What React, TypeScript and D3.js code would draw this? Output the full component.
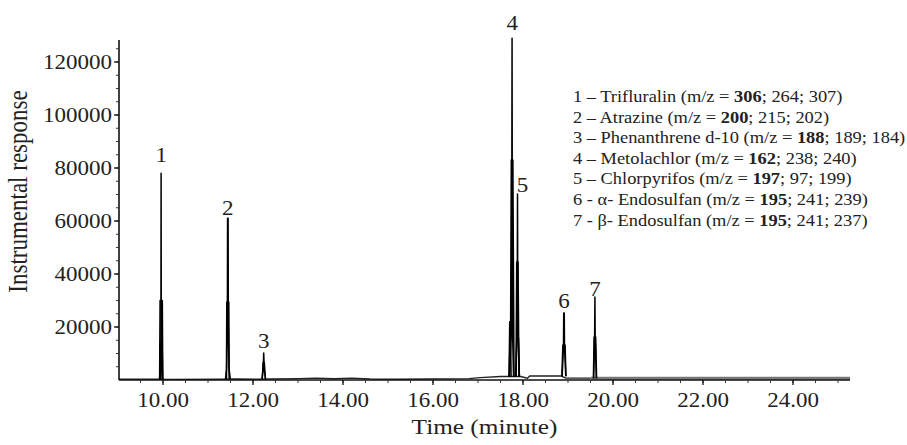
import React from "react";
import * as d3 from "d3";

// ---- data ----
const xTickValues = [10, 12, 14, 16, 18, 20, 22, 24];
const xTickLabels = ["10.00", "12.00", "14.00", "16.00", "18.00", "20.00", "22.00", "24.00"];
const yTickValues = [20000, 40000, 60000, 80000, 100000, 120000];
const yTickLabels = ["20000", "40000", "60000", "80000", "100000", "120000"];

const peakLabels = ["1", "2", "3", "4", "5", "6", "7"];
const peakTimes = [9.96, 11.44, 12.24, 17.76, 17.88, 18.91, 19.6];
const peakHeights = [78000, 61000, 10200, 129000, 70200, 25300, 31300];

// baseline of the chromatogram [time, response]
const baseline: [number, number][] = [
  [9.03, 300], [9.9, 300], [10.1, 250], [11.3, 300], [11.6, 400], [12.1, 300], [12.4, 400],
  [13.0, 500], [13.4, 700], [13.8, 500], [14.2, 700], [14.6, 400], [15.2, 300], [16.0, 350],
  [16.8, 500], [17.05, 900], [17.5, 1300], [17.95, 1300], [18.1, 700], [18.15, 1500],
  [18.85, 1500], [18.95, 700], [19.5, 700], [25.27, 700],
];

// ion traces of every peak [time, response]
const ionTraces: [number, number][][] = [
  // 1 Trifluralin
  [[9.94, 300], [9.953, 12000], [9.958, 78000], [9.962, 12000], [9.98, 300]],
  [[9.925, 300], [9.935, 30000], [9.985, 30000], [9.995, 300]],
  [[9.925, 300], [9.94, 14000], [9.98, 14000], [9.995, 300]],
  // 2 Atrazine
  [[11.41, 400], [11.43, 20000], [11.435, 61000], [11.447, 61000], [11.452, 20000], [11.47, 400]],
  [[11.39, 400], [11.41, 4000], [11.418, 29400], [11.462, 29400], [11.47, 4000], [11.495, 400]],
  // 3 Phenanthrene d-10
  [[12.2, 300], [12.226, 4000], [12.238, 10200], [12.25, 4000], [12.28, 400]],
  [[12.205, 300], [12.225, 6500], [12.252, 6500], [12.275, 400]],
  // 4 Metolachlor
  [[17.7, 1100], [17.745, 20000], [17.757, 129000], [17.765, 20000], [17.79, 1200]],
  [[17.69, 1100], [17.725, 22000], [17.74, 83000], [17.775, 83000], [17.8, 1200]],
  [[17.69, 1100], [17.705, 22000], [17.72, 22000], [17.735, 1200]],
  // 5 Chlorpyrifos
  [[17.84, 1200], [17.87, 20000], [17.878, 70200], [17.885, 20000], [17.92, 1200]],
  [[17.845, 1200], [17.86, 44500], [17.89, 44500], [17.91, 1200]],
  [[17.845, 1200], [17.862, 15800], [17.9, 15800], [17.92, 1200]],
  // 6 alpha-Endosulfan
  [[18.87, 1400], [18.9, 13000], [18.905, 25300], [18.917, 25300], [18.922, 13000], [18.95, 1400]],
  [[18.865, 1400], [18.885, 13200], [18.935, 13200], [18.955, 1400]],
  // 7 beta-Endosulfan
  [[19.57, 700], [19.592, 16000], [19.598, 31300], [19.604, 16000], [19.63, 700]],
  [[19.565, 700], [19.58, 16200], [19.615, 16200], [19.635, 700]],
];

const legendNames = [
  "1 \u2013 Trifluralin",
  "2 \u2013 Atrazine",
  "3 \u2013 Phenanthrene d-10",
  "4 \u2013 Metolachlor",
  "5 \u2013 Chlorpyrifos",
  "6 - \u03b1- Endosulfan",
  "7 - \u03b2- Endosulfan",
];
const legendQuantIons = ["306", "200", "188", "162", "197", "195", "195"];
const legendOtherIons = ["264; 307", "215; 202", "189; 184", "238; 240", "97; 199", "241; 239", "241; 237"];

// ---- layout ----
const W = 907;
const H = 445;
const FONT = "'Liberation Serif', 'Times New Roman', serif";
const SX = 1.15; // horizontal stretch of the reference picture

const labelOffsets: [number, number][] = [
  [0, -11], [0, -3], [0, -5], [0, -8], [5, -2], [0, -5], [0, -1],
];

export default function App() {
  const x = d3.scaleLinear().domain([10, 12]).range([163, 253]);
  const xMin = x.invert(119);
  const xMax = x.invert(850);
  const xs = d3.scaleLinear().domain([xMin, xMax]).range([119, 850]);
  const y = d3.scaleLinear().domain([0, 20000]).range([380, 327]);
  const yTop = y.invert(40);

  const line = d3
    .line<[number, number]>()
    .x((d) => xs(d[0]))
    .y((d) => y(d[1]));

  const minorY = d3.range(5000, yTop, 5000);
  const minorX = d3.range(9.5, xMax, 0.5);

  const stretched = (tx: number, ty: number, extra = "") =>
    `translate(${tx},${ty}) scale(${SX},1)${extra}`;

  return (
    <svg width={W} height={H} style={{ position: "absolute", left: 0, top: 0, background: "#fff" }}>
      <rect x={0} y={0} width={W} height={H} fill="#fff" />
      {/* baseline */}
      <path d={line(baseline.filter((d) => d[0] <= 19.5)) || ""} fill="none" stroke="#222" strokeWidth={1.4} />
      <path d={line(baseline.filter((d) => d[0] >= 19.5)) || ""} fill="none" stroke="#777" strokeWidth={3} />
      {/* peaks */}
      {ionTraces.map((tr, i) => (
        <path key={i} d={line(tr) || ""} fill="none" stroke="#000" strokeWidth={1.5} strokeLinejoin="round" />
      ))}

      {/* axes */}
      <line x1={119} x2={119} y1={40} y2={380} stroke="#111" strokeWidth={1.6} />
      <line x1={119} x2={850} y1={380} y2={380} stroke="#111" strokeWidth={1.6} />
      {minorY.map((v) => (
        <line key={"my" + v} x1={116} x2={119} y1={y(v)} y2={y(v)} stroke="#333" strokeWidth={1} />
      ))}
      {yTickValues.map((v, i) => (
        <g key={"yt" + v}>
          <line x1={114} x2={119} y1={y(v)} y2={y(v)} stroke="#111" strokeWidth={1.3} />
          <text
            transform={stretched(112, y(v))}
            textAnchor="end"
            dy="0.35em"
            fontFamily={FONT}
            fontSize={20}
            fill="#222"
          >
            {yTickLabels[i]}
          </text>
        </g>
      ))}
      {minorX.map((v) => (
        <line key={"mx" + v} x1={xs(v)} x2={xs(v)} y1={380} y2={383} stroke="#333" strokeWidth={1} />
      ))}
      {xTickValues.map((v, i) => (
        <g key={"xt" + v}>
          <line x1={xs(v)} x2={xs(v)} y1={380} y2={385} stroke="#111" strokeWidth={1.3} />
          <text
            transform={stretched(xs(v), 407)}
            textAnchor="middle"
            fontFamily={FONT}
            fontSize={20}
            fill="#222"
          >
            {xTickLabels[i]}
          </text>
        </g>
      ))}
      <text transform={stretched(484.5, 434)} textAnchor="middle" fontFamily={FONT} fontSize={22} fill="#222">
        Time (minute)
      </text>
      <text
        transform={stretched(27, 191.5, " rotate(-90)")}
        textAnchor="middle"
        fontFamily={FONT}
        fontSize={23}
        fill="#222"
      >
        Instrumental response
      </text>

      {/* peak labels */}
      {peakLabels.map((lab, i) => (
        <text
          key={"pl" + i}
          transform={stretched(xs(peakTimes[i]) + labelOffsets[i][0], y(peakHeights[i]) + labelOffsets[i][1])}
          textAnchor="middle"
          fontFamily={FONT}
          fontSize={20}
          fill="#222"
        >
          {lab}
        </text>
      ))}

      {/* legend */}
      {legendNames.map((n, i) => (
        <text
          key={"lg" + i}
          transform={stretched(573, 102 + i * 20.6)}
          fontFamily={FONT}
          fontSize={16}
          fill="#222"
        >
          {n} (m/z = <tspan fontWeight="bold">{legendQuantIons[i]}</tspan>; {legendOtherIons[i]})
        </text>
      ))}
    </svg>
  );
}
